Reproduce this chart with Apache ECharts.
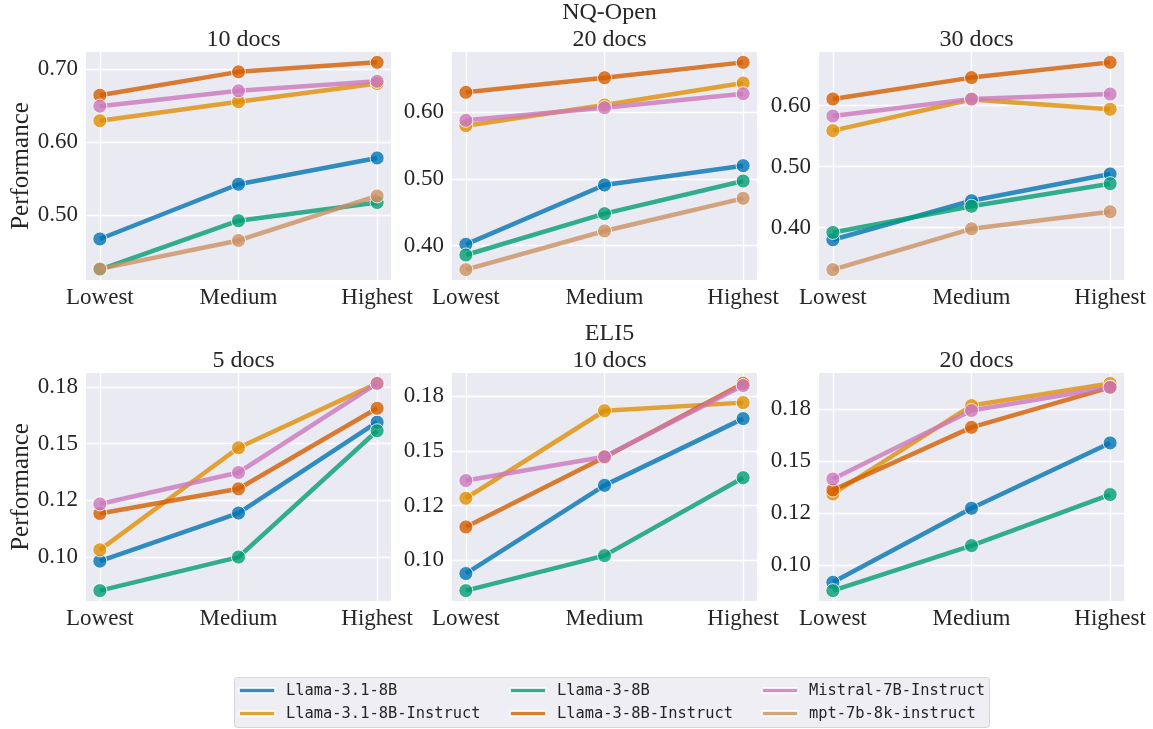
<!DOCTYPE html>
<html>
<head>
<meta charset="utf-8">
<script src="https://cdn.jsdelivr.net/npm/echarts@6/dist/echarts.min.js"></script>
<style>
  html, body { margin: 0; padding: 0; background: #ffffff; }
  #chart { width: 1153px; height: 729px; }
</style>
</head>
<body>
<div id="chart"></div>
<script>
// Retrieval-quality levels on the x axis
const categories = ['Lowest', 'Medium', 'Highest'];

// Models, in hue order
const models = [
  'Llama-3.1-8B',
  'Llama-3.1-8B-Instruct',
  'Llama-3-8B',
  'Llama-3-8B-Instruct',
  'Mistral-7B-Instruct',
  'mpt-7b-8k-instruct'
];
const colors = ['#0173b2', '#de8f05', '#029e73', '#d55e00', '#cc78bc', '#ca9161'];

// NQ-Open performance, one row per model (same order as `models`)
const nq10docs = [
  [0.467, 0.542, 0.578],
  [0.629, 0.655, 0.680],
  [0.425, 0.492, 0.517],
  [0.664, 0.696, 0.709],
  [0.649, 0.670, 0.683],
  [0.426, 0.465, 0.526]
];
const nq20docs = [
  [0.402, 0.491, 0.520],
  [0.580, 0.611, 0.644],
  [0.386, 0.448, 0.497],
  [0.630, 0.652, 0.675],
  [0.588, 0.607, 0.628],
  [0.364, 0.422, 0.471]
];
const nq30docs = [
  [0.380, 0.444, 0.488],
  [0.559, 0.610, 0.594],
  [0.392, 0.435, 0.472],
  [0.611, 0.646, 0.671],
  [0.583, 0.611, 0.619],
  [0.331, 0.398, 0.426]
];

// ELI5 performance (mpt-7b-8k-instruct not evaluated)
const eli5_5docs = [
  [0.0982, 0.1194, 0.1595],
  [0.1032, 0.1482, 0.1766],
  [0.0852, 0.1000, 0.1557],
  [0.1192, 0.1301, 0.1656],
  [0.1234, 0.1373, 0.1766],
  null
];
const eli5_10docs = [
  [0.0939, 0.1342, 0.1647],
  [0.1283, 0.1683, 0.1720],
  [0.0861, 0.1021, 0.1377],
  [0.1152, 0.1470, 0.1808],
  [0.1364, 0.1473, 0.1798],
  null
];
const eli5_20docs = [
  [0.0916, 0.1273, 0.1588],
  [0.1342, 0.1768, 0.1875],
  [0.0876, 0.1093, 0.1339],
  [0.1361, 0.1663, 0.1856],
  [0.1414, 0.1744, 0.1856],
  null
];

// Y tick values and their printed labels
const nqTicks = [0.4, 0.5, 0.6, 0.7];
const nqTickLabels = ['0.40', '0.50', '0.60', '0.70'];
const eli5Ticks = [0.1, 0.125, 0.15, 0.175];
const eli5TickLabels = ['0.10', '0.12', '0.15', '0.18'];

// Panel titles
const datasetTitles = ['NQ-Open', 'ELI5'];
const panelTitles = ['10 docs', '20 docs', '30 docs', '5 docs', '10 docs', '20 docs'];

const panelData = [nq10docs, nq20docs, nq30docs, eli5_5docs, eli5_10docs, eli5_20docs];

// Layout of the 2x3 grid of panels
const colLeft = [86, 452, 819];
const colWidth = 305;
const rowTop = [52, 373];
const rowHeight = 228;

const serifFont = 'Liberation Serif';
const textColor = '#262626';

const grids = [], xAxes = [], yAxes = [], series = [], titles = [];

panelData.forEach(function (rows, p) {
  const row = Math.floor(p / 3), col = p % 3;
  const ticks = row === 0 ? nqTicks : eli5Ticks;
  const tickLabels = row === 0 ? nqTickLabels : eli5TickLabels;

  grids.push({
    left: colLeft[col], top: rowTop[row], width: colWidth, height: rowHeight,
    show: true, backgroundColor: '#eaeaf2', borderWidth: 0
  });

  // 5% padding on both axes
  let lo = Infinity, hi = -Infinity;
  rows.forEach(function (r) { if (r) r.forEach(function (v) { lo = Math.min(lo, v); hi = Math.max(hi, v); }); });
  const pad = (hi - lo) * 0.05;
  const xPad = (categories.length - 1) * 0.05;
  const catIdx = categories.map(function (c, i) { return i; });

  xAxes.push({
    type: 'value', gridIndex: p,
    min: -xPad, max: categories.length - 1 + xPad,
    axisLine: { show: false },
    axisTick: { show: false, customValues: catIdx },
    axisLabel: {
      customValues: catIdx,
      formatter: function (v) { return categories[Math.round(v)]; },
      fontFamily: serifFont, fontSize: 23, color: textColor, margin: 6
    },
    splitLine: { show: true, lineStyle: { color: '#ffffff', width: 1.3 } }
  });

  yAxes.push({
    type: 'value', gridIndex: p,
    min: lo - pad, max: hi + pad,
    name: col === 0 ? 'Performance' : '',
    nameLocation: 'middle', nameGap: 52,
    nameTextStyle: { fontFamily: serifFont, fontSize: 25, color: textColor },
    axisLine: { show: false },
    axisTick: { show: false, customValues: ticks },
    axisLabel: {
      customValues: ticks,
      formatter: function (v) {
        for (let i = 0; i < ticks.length; i++) if (Math.abs(ticks[i] - v) < 1e-9) return tickLabels[i];
        return '';
      },
      fontFamily: serifFont, fontSize: 23, color: textColor, margin: 8
    },
    splitLine: { show: true, lineStyle: { color: '#ffffff', width: 1.3 } }
  });

  const cx = colLeft[col] + colWidth / 2;
  titles.push({
    text: panelTitles[p], left: cx, top: rowTop[row] - 29, textAlign: 'center',
    textStyle: { fontFamily: serifFont, fontSize: 24, fontWeight: 'normal', color: textColor }
  });
  if (col === 1) {
    titles.push({
      text: datasetTitles[row], left: cx, top: rowTop[row] - 56, textAlign: 'center',
      textStyle: { fontFamily: serifFont, fontSize: 24, fontWeight: 'normal', color: textColor }
    });
  }

  rows.forEach(function (r, m) {
    if (!r) return;
    series.push({
      type: 'line', name: models[m], xAxisIndex: p, yAxisIndex: p,
      data: r.map(function (v, i) { return [i, v]; }),
      symbol: 'circle', symbolSize: 14,
      lineStyle: { width: 4.5, color: colors[m], opacity: 0.8 },
      itemStyle: { color: colors[m], borderColor: '#ffffff', borderWidth: 1, opacity: 0.8 },
      emphasis: { disabled: true },
      animation: false, z: 2 + m
    });
  });
});

// Legend: three columns of two entries each inside one framed box
const legendCols = [[0, 1], [2, 3], [4, 5]];
const legendLeft = [238, 509, 761];
const legends = legendCols.map(function (idx, c) {
  return {
    orient: 'vertical', left: legendLeft[c], top: 683, padding: 0,
    data: idx.map(function (i) { return { name: models[i], itemStyle: { color: colors[i], opacity: 0.8 } }; }),
    icon: 'roundRect', itemWidth: 36, itemHeight: 5, itemGap: 8,
    selectedMode: false,
    textStyle: { fontFamily: 'DejaVu Sans Mono', fontSize: 15.4, color: textColor, padding: [0, 0, 0, 6] }
  };
});

const chart = echarts.init(document.getElementById('chart'), null, { renderer: 'canvas' });
chart.setOption({
  backgroundColor: '#ffffff',
  animation: false,
  title: titles,
  grid: grids,
  xAxis: xAxes,
  yAxis: yAxes,
  legend: legends,
  color: colors,
  series: series,
  graphic: [{
    type: 'rect', left: 234, top: 677, z: -1,
    shape: { width: 755, height: 50, r: 3 },
    style: { fill: '#eeeef4', stroke: '#d6d6d6', lineWidth: 1 }
  }]
});
</script>
</body>
</html>
